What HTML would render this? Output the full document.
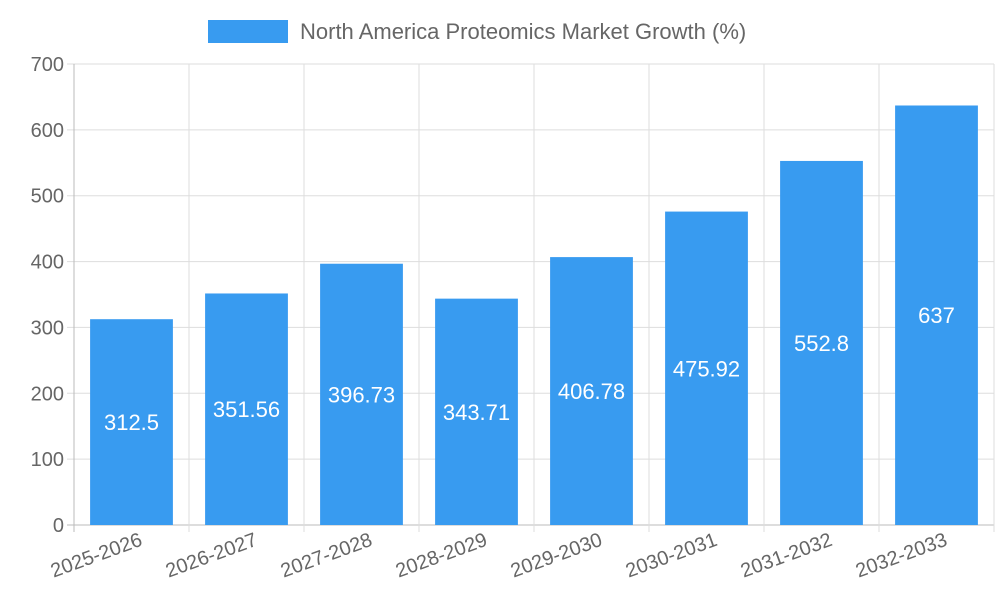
<!DOCTYPE html>
<html><head><meta charset="utf-8"><style>body{margin:0;background:#fff}svg{display:block;font-family:"Liberation Sans",sans-serif}</style></head>
<body>
<svg id="chart" width="1000" height="600">
<g id="legend">
<rect x="208" y="20" width="80" height="23" fill="#389bf0"/>
<text x="300" y="39" font-size="22" fill="#666">North America Proteomics Market Growth (%)</text>
</g>
<g id="grid"></g><g id="bars"></g><g id="labels"></g>
</svg>
<script>
const categories=["2025-2026","2026-2027","2027-2028","2028-2029","2029-2030","2030-2031","2031-2032","2032-2033"];
const values=[312.5,351.56,396.73,343.71,406.78,475.92,552.8,637];
const valueLabels=["312.5","351.56","396.73","343.71","406.78","475.92","552.8","637"];
const yTicks=[0,100,200,300,400,500,600,700];
const NS="http://www.w3.org/2000/svg";
const L=74,R=994,T=64,B=525,maxV=700;
const y=v=>B-(v/maxV)*(B-T);
const bw=(R-L)/categories.length;
const x=i=>L+i*bw;
function mk(tag,attrs,parent,txt){const e=document.createElementNS(NS,tag);for(const k in attrs)e.setAttribute(k,attrs[k]);if(txt!==undefined)e.textContent=txt;parent.appendChild(e);return e;}
const grid=document.getElementById('grid'),bars=document.getElementById('bars'),labels=document.getElementById('labels');
yTicks.forEach(t=>{
 const l=mk('line',{x1:L-7,x2:R,y1:y(t),y2:y(t),stroke:t===0?'#bbb':'#ddd','stroke-width':1},grid);
 
 
 const tx=mk('text',{x:L-10,y:y(t)+7,'text-anchor':'end','font-size':20,fill:'#666'},grid,String(t));
 
 
});
for(let i=0;i<=categories.length;i++){
 const l=mk('line',{x1:x(i),x2:x(i),y1:T,y2:B+7,stroke:i===0?'#bbb':'#ddd','stroke-width':1},grid);
 
 
}
categories.forEach((c,i)=>{
 const bx=x(i)+bw*0.14,w=bw*0.72;
 const r=mk('rect',{x:bx,y:y(values[i]),width:w,height:B-y(values[i]),fill:'#389bf0'},bars);
 
 
 const v=mk('text',{x:bx+w/2,y:(y(values[i])+B)/2+8,'text-anchor':'middle','font-size':22,fill:'#fff'},labels,valueLabels[i]);
 
 
 const cx=x(i)+bw/2+12;
 const t=mk('text',{x:cx,y:545,'text-anchor':'end','font-size':20,fill:'#666',transform:`rotate(-20 ${cx} 545)`},labels,c);
 
 
});
</script>
</body></html>
